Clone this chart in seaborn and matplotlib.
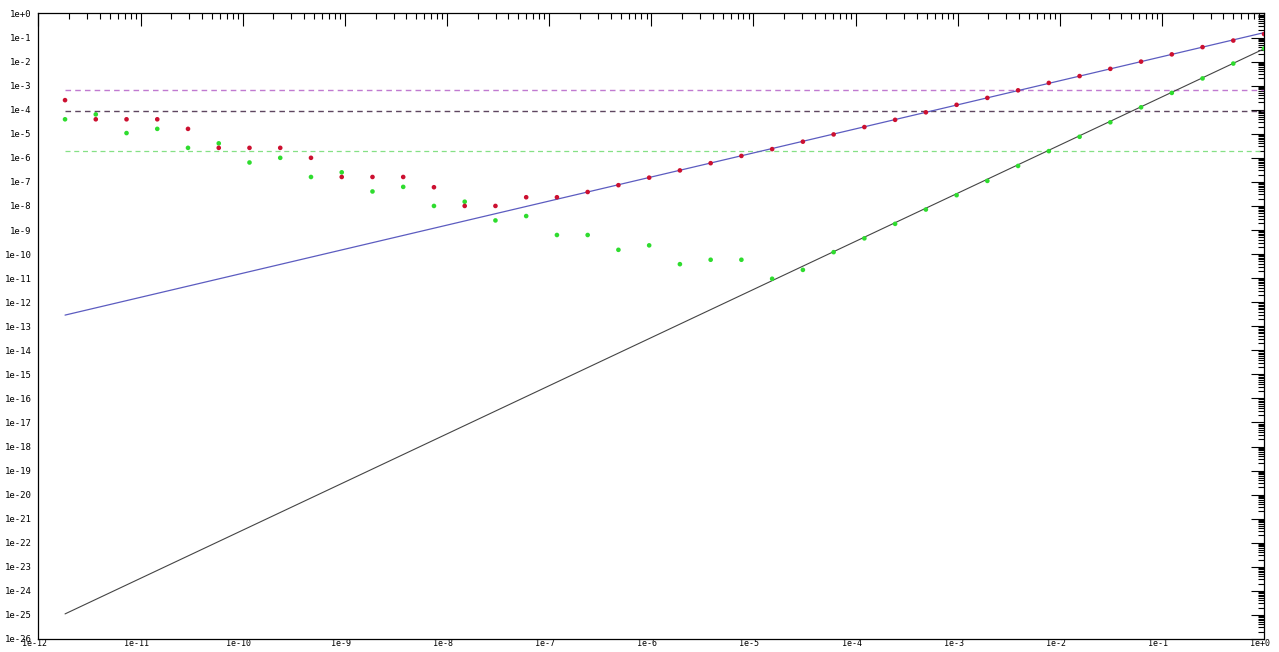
import numpy as np
import pandas as pd
import matplotlib
matplotlib.use("Agg")
import matplotlib.pyplot as plt
import matplotlib.ticker as mticker
import matplotlib.transforms as mtransforms
import seaborn as sns

# Step sizes h = 2^-39 ... 2^0
step = [1.819e-12, 3.638e-12, 7.276e-12, 1.455e-11, 2.910e-11, 5.821e-11,
        1.164e-10, 2.328e-10, 4.657e-10, 9.313e-10, 1.863e-9, 3.725e-9,
        7.451e-9, 1.490e-8, 2.980e-8, 5.960e-8, 1.192e-7, 2.384e-7,
        4.768e-7, 9.537e-7, 1.907e-6, 3.815e-6, 7.629e-6, 1.526e-5,
        3.052e-5, 6.104e-5, 1.221e-4, 2.441e-4, 4.883e-4, 9.766e-4,
        1.953e-3, 3.906e-3, 7.813e-3, 1.563e-2, 3.125e-2, 6.25e-2,
        0.125, 0.25, 0.5, 1.0]

# Error of the first-order (forward) difference
err_forward = [2.5e-4, 4e-5, 4e-5, 4e-5, 1.6e-5, 2.6e-6, 2.6e-6, 2.6e-6,
               1e-6, 1.6e-7, 1.6e-7, 1.6e-7, 6e-8, 1e-8, 1e-8, 2.3e-8,
               2.3e-8, 3.8e-8, 7.3e-8, 1.5e-7, 3e-7, 6e-7, 1.2e-6, 2.3e-6,
               4.7e-6, 9.4e-6, 1.9e-5, 3.8e-5, 7.8e-5, 1.6e-4, 3.1e-4, 6.4e-4,
               1.3e-3, 2.5e-3, 5e-3, 1e-2, 2e-2, 4e-2, 7.5e-2, 0.14]

# Error of the second-order (central) difference
err_central = [4e-5, 6.4e-5, 1.07e-5, 1.6e-5, 2.6e-6, 4e-6, 6.4e-7, 1e-6,
               1.6e-7, 2.5e-7, 4e-8, 6.2e-8, 1e-8, 1.5e-8, 2.5e-9, 3.8e-9,
               6.2e-10, 6.2e-10, 1.5e-10, 2.3e-10, 3.8e-11, 5.8e-11, 5.8e-11,
               9.4e-12, 2.2e-11, 1.2e-10, 4.5e-10, 1.8e-9, 7.1e-9, 2.8e-8,
               1.1e-7, 4.6e-7, 1.9e-6, 7.5e-6, 3e-5, 1.26e-4, 5e-4, 2e-3,
               8.3e-3, 3.5e-2]

# Reference slopes: O(h) and O(h^2)
ref_x = [1.819e-12, 1.0]
ref_linear = [2.9e-13, 0.16]
ref_quadratic = [1.1e-25, 0.034]

# Horizontal threshold levels
level_x = [1.819e-12, 1.0]
level_magenta = 6.3e-4
level_dark = 9.0e-5
level_green = 2.0e-6

sns.set_style("white")
plt.rcParams["font.family"] = ["DejaVu Sans Mono", "DejaVu Sans"]

fig = plt.figure(figsize=(12.79, 6.52), dpi=100)
ax = fig.add_axes([0.0301, 0.0200, 0.9582, 0.9593])
ax.set_xscale("log")
ax.set_yscale("log")

dash = (0, (4, 3))
sns.lineplot(x=level_x, y=[level_magenta] * 2, color="#c07ad0", lw=1.0,
             linestyle=dash, ax=ax)
sns.lineplot(x=level_x, y=[level_dark] * 2, color="#5e4660", lw=1.0,
             linestyle=dash, ax=ax)
sns.lineplot(x=level_x, y=[level_green] * 2, color="#86e086", lw=0.9,
             linestyle=dash, ax=ax)

sns.lineplot(x=ref_x, y=ref_linear, color="#5c5cc0", lw=0.9, ax=ax)
sns.lineplot(x=ref_x, y=ref_quadratic, color="#444444", lw=0.8, ax=ax)

sns.scatterplot(x=step, y=err_central, color="#2edc2e", s=11,
                edgecolor="none", zorder=5, ax=ax)
sns.scatterplot(x=step, y=err_forward, color="#cc1030", s=11,
                edgecolor="none", zorder=6, ax=ax)

ax.set_xlim(1e-12, 1.0)
ax.set_ylim(1e-26, 1.0)

ax.xaxis.set_major_locator(mticker.LogLocator(base=10, numticks=100))
ax.yaxis.set_major_locator(mticker.LogLocator(base=10, numticks=100))
ax.xaxis.set_minor_locator(mticker.LogLocator(base=10, subs=np.arange(2, 10), numticks=100))
ax.yaxis.set_minor_locator(mticker.LogLocator(base=10, subs=np.arange(2, 10), numticks=100))
ax.xaxis.set_minor_formatter(mticker.NullFormatter())
ax.yaxis.set_minor_formatter(mticker.NullFormatter())


def exp_label(v, pos):
    e = int(round(np.log10(v)))
    return "1e+0" if e == 0 else "1e{:d}".format(e)


ax.xaxis.set_major_formatter(mticker.FuncFormatter(exp_label))
ax.yaxis.set_major_formatter(mticker.FuncFormatter(exp_label))

ax.tick_params(which="both", direction="in", top=True, right=True,
               colors="black", width=0.8)
ax.tick_params(which="major", length=9.5)
ax.tick_params(which="minor", length=4.5)
ax.tick_params(axis="x", which="major", pad=0, labelsize=6)
ax.tick_params(axis="y", which="major", pad=5, labelsize=6.5)

# nudge the x labels a little to the left of their ticks
fig.canvas.draw()
shift = mtransforms.ScaledTranslation(-4 / 100, 0, fig.dpi_scale_trans)
for lbl in ax.get_xticklabels():
    lbl.set_transform(lbl.get_transform() + shift)

for sp in ax.spines.values():
    sp.set_color("black")
    sp.set_linewidth(0.9)

ax.set_xlabel("")
ax.set_ylabel("")

fig.savefig("out.png", dpi=100, facecolor="white")
